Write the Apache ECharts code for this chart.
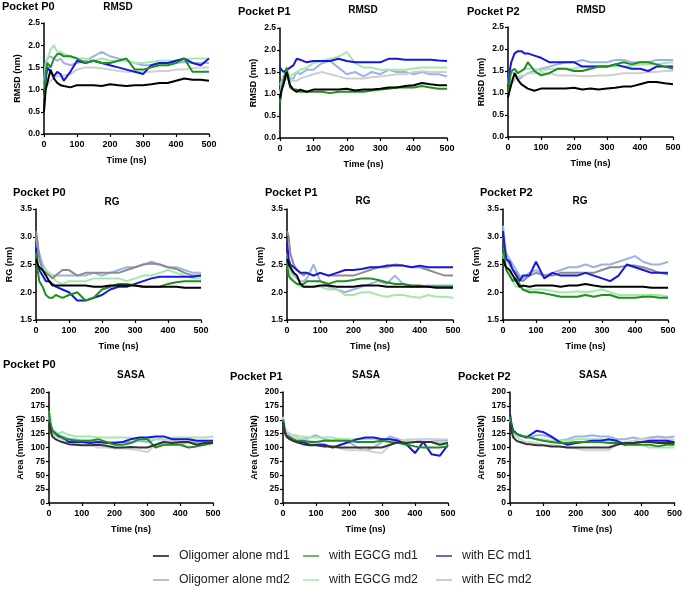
<!DOCTYPE html>
<html><head><meta charset="utf-8">
<script src="https://cdn.jsdelivr.net/npm/echarts@6/dist/echarts.min.js"></script>
<style>html,body{margin:0;padding:0;background:#fff}#c{width:685px;height:589px}</style>
</head><body><div id="c"></div>
<script>
// ---------- DATA ----------
const T = [0,5,10,20,30,40,50,60,80,100,125,150,175,200,225,250,275,300,325,350,375,400,425,450,475,500];
const SERIES_NAMES = ['Oligomer alone md1','Oligomer alone md2','with EGCG md1','with EGCG md2','with EC md1','with EC md2'];

// RMSD Pocket P0
const rmsdP0_olig1 = [0.5,1.0,1.15,1.45,1.25,1.15,1.1,1.08,1.05,1.1,1.1,1.1,1.08,1.12,1.1,1.08,1.1,1.1,1.12,1.15,1.15,1.2,1.25,1.22,1.22,1.2];
const rmsdP0_olig2 = [0.8,1.0,1.1,1.2,1.25,1.3,1.3,1.32,1.35,1.45,1.5,1.5,1.48,1.45,1.42,1.4,1.4,1.4,1.4,1.42,1.42,1.45,1.45,1.48,1.5,1.5];
const rmsdP0_egcg1 = [0.6,1.4,1.6,1.5,1.7,1.8,1.8,1.75,1.75,1.7,1.6,1.65,1.6,1.6,1.65,1.7,1.45,1.45,1.5,1.55,1.55,1.6,1.7,1.4,1.4,1.4];
const rmsdP0_egcg2 = [1.0,1.5,1.7,1.9,2.0,1.85,1.85,1.8,1.75,1.7,1.7,1.65,1.7,1.65,1.65,1.65,1.6,1.6,1.62,1.65,1.65,1.65,1.68,1.7,1.7,1.7];
const rmsdP0_ec1   = [0.9,1.2,1.5,1.4,1.3,1.4,1.35,1.2,1.4,1.65,1.6,1.65,1.6,1.55,1.5,1.45,1.4,1.35,1.55,1.6,1.6,1.65,1.7,1.6,1.55,1.7];
const rmsdP0_ec2   = [1.2,1.6,1.7,1.75,1.7,1.65,1.7,1.6,1.55,1.6,1.65,1.75,1.85,1.75,1.7,1.65,1.6,1.55,1.55,1.6,1.6,1.6,1.62,1.6,1.6,1.6];
// RMSD Pocket P1
const rmsdP1_olig1 = [0.9,1.1,1.2,1.5,1.2,1.1,1.05,1.1,1.05,1.1,1.1,1.1,1.1,1.12,1.08,1.1,1.1,1.12,1.15,1.15,1.18,1.2,1.25,1.22,1.2,1.2];
const rmsdP1_olig2 = [1.0,1.2,1.3,1.35,1.3,1.3,1.3,1.35,1.4,1.45,1.5,1.45,1.4,1.35,1.35,1.35,1.38,1.4,1.42,1.45,1.45,1.5,1.52,1.5,1.5,1.5];
const rmsdP1_egcg1 = [0.8,1.1,1.3,1.6,1.15,1.1,1.1,1.05,1.05,1.05,1.05,1.02,1.05,1.05,1.05,1.05,1.08,1.1,1.12,1.15,1.15,1.15,1.18,1.15,1.12,1.12];
const rmsdP1_egcg2 = [1.0,1.2,1.4,1.5,1.4,1.45,1.5,1.55,1.6,1.7,1.75,1.8,1.85,1.95,1.7,1.6,1.6,1.55,1.55,1.55,1.55,1.58,1.6,1.6,1.6,1.6];
const rmsdP1_ec1   = [1.6,1.6,1.5,1.55,1.6,1.65,1.8,1.78,1.72,1.75,1.75,1.75,1.8,1.75,1.72,1.72,1.72,1.72,1.8,1.8,1.78,1.78,1.78,1.78,1.76,1.75];
const rmsdP1_ec2   = [1.2,1.3,1.4,1.45,1.35,1.35,1.5,1.45,1.55,1.55,1.7,1.75,1.6,1.45,1.5,1.4,1.5,1.45,1.55,1.5,1.5,1.45,1.5,1.45,1.45,1.4];
// RMSD Pocket P2
const rmsdP2_olig1 = [0.9,1.05,1.2,1.45,1.3,1.2,1.15,1.1,1.05,1.1,1.1,1.1,1.1,1.12,1.08,1.1,1.08,1.1,1.12,1.15,1.15,1.2,1.25,1.25,1.22,1.2];
const rmsdP2_olig2 = [1.0,1.1,1.2,1.3,1.35,1.4,1.4,1.45,1.45,1.45,1.45,1.4,1.4,1.4,1.38,1.38,1.4,1.4,1.42,1.45,1.45,1.45,1.48,1.48,1.5,1.5];
const rmsdP2_egcg1 = [1.0,1.3,1.5,1.55,1.45,1.5,1.55,1.7,1.5,1.4,1.45,1.55,1.55,1.5,1.5,1.55,1.6,1.6,1.65,1.7,1.65,1.7,1.7,1.65,1.6,1.55];
const rmsdP2_egcg2 = [1.0,1.2,1.3,1.4,1.45,1.5,1.55,1.55,1.55,1.5,1.55,1.55,1.55,1.55,1.6,1.6,1.6,1.6,1.6,1.6,1.62,1.65,1.65,1.65,1.68,1.7];
const rmsdP2_ec1   = [1.0,1.5,1.7,1.9,1.95,1.95,1.9,1.9,1.85,1.8,1.7,1.7,1.7,1.7,1.6,1.6,1.6,1.6,1.65,1.6,1.55,1.55,1.5,1.6,1.6,1.6];
const rmsdP2_ec2   = [1.2,1.5,1.5,1.45,1.3,1.35,1.4,1.45,1.5,1.55,1.6,1.65,1.7,1.7,1.75,1.7,1.7,1.7,1.75,1.75,1.7,1.7,1.7,1.75,1.75,1.75];
// RG Pocket P0
const rgP0_olig1 = [2.6,2.5,2.45,2.4,2.3,2.2,2.12,2.12,2.12,2.12,2.12,2.12,2.1,2.1,2.12,2.12,2.12,2.12,2.1,2.1,2.1,2.1,2.1,2.08,2.08,2.08];
const rgP0_olig2 = [3.1,2.9,2.6,2.4,2.35,2.3,2.25,2.3,2.4,2.4,2.3,2.35,2.35,2.35,2.35,2.35,2.4,2.45,2.5,2.52,2.5,2.45,2.42,2.35,2.3,2.3];
const rgP0_egcg1 = [2.7,2.4,2.2,2.1,1.95,1.9,1.9,1.95,1.9,1.95,2.0,1.85,1.9,2.05,2.1,2.15,2.15,2.12,2.1,2.1,2.1,2.15,2.18,2.2,2.2,2.2];
const rgP0_egcg2 = [2.6,2.5,2.4,2.45,2.4,2.35,2.3,2.2,2.15,2.2,2.2,2.2,2.25,2.25,2.25,2.25,2.2,2.25,2.3,2.3,2.35,2.4,2.35,2.3,2.25,2.25];
const rgP0_ec1   = [2.8,2.5,2.4,2.3,2.2,2.2,2.15,2.1,2.05,2.0,1.85,1.85,1.9,1.95,2.05,2.1,2.1,2.15,2.2,2.25,2.28,2.28,2.28,2.28,2.28,2.3];
const rgP0_ec2   = [3.0,2.8,2.7,2.5,2.4,2.3,2.3,2.3,2.3,2.3,2.3,2.3,2.35,2.3,2.35,2.4,2.45,2.45,2.5,2.55,2.5,2.45,2.45,2.4,2.35,2.35];
// RG Pocket P1
const rgP1_olig1 = [2.6,2.5,2.45,2.35,2.3,2.15,2.1,2.1,2.1,2.12,2.12,2.1,2.1,2.1,2.12,2.12,2.12,2.1,2.1,2.1,2.1,2.1,2.1,2.08,2.08,2.08];
const rgP1_olig2 = [3.1,3.0,2.7,2.5,2.4,2.35,2.3,2.35,2.3,2.35,2.3,2.3,2.3,2.3,2.35,2.4,2.45,2.45,2.5,2.48,2.45,2.45,2.4,2.35,2.3,2.3];
const rgP1_egcg1 = [2.5,2.3,2.25,2.2,2.15,2.15,2.15,2.2,2.2,2.2,2.15,2.2,2.2,2.22,2.25,2.25,2.22,2.18,2.15,2.15,2.12,2.12,2.1,2.1,2.1,2.1];
const rgP1_egcg2 = [2.6,2.4,2.3,2.2,2.15,2.1,2.1,2.1,2.1,2.1,2.05,2.05,1.95,1.95,2.0,2.0,1.95,1.92,1.95,1.95,1.92,1.9,1.95,1.92,1.92,1.9];
const rgP1_ec1   = [2.9,2.6,2.5,2.45,2.4,2.35,2.35,2.35,2.3,2.35,2.3,2.35,2.4,2.4,2.42,2.45,2.45,2.48,2.48,2.48,2.45,2.48,2.45,2.45,2.45,2.45];
const rgP1_ec2   = [2.7,2.5,2.4,2.3,2.25,2.2,2.2,2.25,2.5,2.2,2.1,2.05,2.0,2.05,2.1,2.15,2.2,2.15,2.3,2.15,2.1,2.1,2.12,2.12,2.12,2.12];
// RG Pocket P2
const rgP2_olig1 = [2.6,2.5,2.45,2.4,2.3,2.2,2.1,2.12,2.1,2.12,2.12,2.12,2.1,2.12,2.12,2.15,2.12,2.1,2.1,2.1,2.1,2.1,2.1,2.08,2.08,2.08];
const rgP2_olig2 = [3.0,2.8,2.6,2.5,2.4,2.35,2.25,2.2,2.3,2.35,2.3,2.3,2.35,2.35,2.35,2.35,2.35,2.4,2.45,2.45,2.48,2.48,2.45,2.4,2.35,2.32];
const rgP2_egcg1 = [2.8,2.6,2.4,2.3,2.2,2.25,2.15,2.05,2.0,2.0,1.98,1.95,1.92,1.92,1.92,1.95,1.92,1.95,1.95,1.9,1.9,1.9,1.92,1.92,1.9,1.9];
const rgP2_egcg2 = [2.7,2.5,2.4,2.3,2.2,2.1,2.1,2.05,2.05,2.05,2.05,2.02,2.0,2.0,2.02,2.0,2.02,2.05,2.0,1.95,1.95,1.95,1.95,1.95,1.95,1.92];
const rgP2_ec1   = [3.1,2.8,2.6,2.55,2.4,2.3,2.2,2.3,2.3,2.55,2.25,2.35,2.3,2.3,2.3,2.35,2.3,2.25,2.2,2.3,2.5,2.45,2.4,2.35,2.35,2.35];
const rgP2_ec2   = [3.2,2.9,2.7,2.6,2.5,2.4,2.3,2.25,2.35,2.4,2.3,2.35,2.4,2.45,2.45,2.5,2.45,2.5,2.5,2.55,2.6,2.65,2.55,2.5,2.5,2.55];
// SASA Pocket P0
const sasaP0_olig1 = [145,130,120,115,112,110,108,106,105,104,104,105,103,100,100,101,100,100,105,110,108,110,110,105,108,108];
const sasaP0_olig2 = [150,135,125,120,118,115,112,110,108,105,105,100,100,98,98,97,95,92,105,112,112,115,115,112,112,112];
const sasaP0_egcg1 = [165,140,130,125,122,118,115,115,112,112,112,115,110,105,105,108,115,115,100,105,105,105,100,102,105,108];
const sasaP0_egcg2 = [165,145,135,128,125,128,125,123,120,120,120,118,118,118,118,117,115,115,115,115,118,118,118,118,118,120];
const sasaP0_ec1   = [150,140,130,125,120,118,115,110,110,110,108,110,108,108,110,115,118,118,120,120,115,115,115,112,112,112];
const sasaP0_ec2   = [155,140,132,125,122,120,118,115,115,112,112,110,110,110,110,110,112,110,115,115,112,105,110,108,110,112];
// SASA Pocket P1
const sasaP1_olig1 = [145,128,120,115,112,110,108,106,104,104,102,102,100,100,100,100,100,100,105,110,108,110,110,110,105,108];
const sasaP1_olig2 = [155,140,130,125,120,118,115,115,112,110,105,100,98,95,95,95,92,90,105,110,115,115,115,115,115,115];
const sasaP1_egcg1 = [150,130,122,118,115,112,112,112,110,110,112,112,112,112,110,110,110,112,110,108,105,102,100,100,100,102];
const sasaP1_egcg2 = [155,135,128,125,122,122,120,120,118,118,118,118,115,115,115,115,115,115,115,112,112,110,110,110,110,110];
const sasaP1_ec1   = [150,130,122,118,115,112,110,110,105,105,105,100,105,110,115,118,118,115,115,112,105,90,110,88,85,105];
const sasaP1_ec2   = [155,135,128,122,120,118,115,115,118,122,115,112,115,110,100,95,100,110,120,115,110,110,115,115,112,112];
// SASA Pocket P2
const sasaP2_olig1 = [145,128,118,112,110,108,106,106,104,104,102,102,100,100,100,100,100,100,105,108,108,110,110,108,108,108];
const sasaP2_olig2 = [150,132,122,118,115,112,110,110,108,105,105,102,100,98,95,95,95,95,105,110,112,115,115,115,115,115];
const sasaP2_egcg1 = [155,135,128,125,122,120,120,118,115,112,110,108,108,110,110,110,110,108,108,105,105,105,105,102,105,105];
const sasaP2_egcg2 = [155,135,128,122,120,120,118,118,115,115,112,112,112,115,115,115,115,112,110,108,105,105,100,100,100,100];
const sasaP2_ec1   = [160,140,130,125,122,120,118,122,130,128,120,110,105,108,110,112,112,115,112,105,108,110,112,112,112,110];
const sasaP2_ec2   = [160,140,130,125,122,120,118,118,122,122,118,112,115,120,120,122,120,120,115,115,118,115,118,120,118,120];

// axis tick definitions
const rmsdTicks = [0, 2.5, 0.5];
const rgTicks = [1.5, 3.5, 0.5];
const sasaTicks = [0, 200, 25];
const timeTicks = [0, 500, 100];

// ---------- LAYOUT ----------
const FONT = "'Liberation Sans', Arial, Helvetica, sans-serif";
const palette = {
  rmsd: ['#000000','#cfcfcf','#1f8f1f','#a6e8ac','#1616e0','#9db2e6'],
  rg:   ['#000000','#8c8c8c','#1f8f1f','#a6e8ac','#1616e0','#9db2e6'],
  sasa: ['#333333','#d2d2d2','#1f8f1f','#a6e8ac','#1616e0','#9db2e6']
};
const panels = [
  {g:[44,23,165,111],   kind:'rmsd', yname:'RMSD (nm)', ticks:rmsdTicks, dec:1, gap:22, title:'RMSD', pocket:'Pocket P0', pp:[2,7],   tp:[118,7],
   d:[rmsdP0_olig1,rmsdP0_olig2,rmsdP0_egcg1,rmsdP0_egcg2,rmsdP0_ec1,rmsdP0_ec2]},
  {g:[280,28,167,110],  kind:'rmsd', yname:'RMSD (nm)', ticks:rmsdTicks, dec:1, gap:22, title:'RMSD', pocket:'Pocket P1', pp:[238,12], tp:[363,10],
   d:[rmsdP1_olig1,rmsdP1_olig2,rmsdP1_egcg1,rmsdP1_egcg2,rmsdP1_ec1,rmsdP1_ec2]},
  {g:[508,27,165,110],  kind:'rmsd', yname:'RMSD (nm)', ticks:rmsdTicks, dec:1, gap:22, title:'RMSD', pocket:'Pocket P2', pp:[467,12], tp:[591,10],
   d:[rmsdP2_olig1,rmsdP2_olig2,rmsdP2_egcg1,rmsdP2_egcg2,rmsdP2_ec1,rmsdP2_ec2]},
  {g:[36,209,165,111],  kind:'rg', yname:'RG (nm)', ticks:rgTicks, dec:1, gap:22, title:'RG', pocket:'Pocket P0', pp:[13,193], tp:[112,202],
   d:[rgP0_olig1,rgP0_olig2,rgP0_egcg1,rgP0_egcg2,rgP0_ec1,rgP0_ec2]},
  {g:[287,209,166,111], kind:'rg', yname:'RG (nm)', ticks:rgTicks, dec:1, gap:22, title:'RG', pocket:'Pocket P1', pp:[265,193], tp:[363,201],
   d:[rgP1_olig1,rgP1_olig2,rgP1_egcg1,rgP1_egcg2,rgP1_ec1,rgP1_ec2]},
  {g:[503,209,165,111], kind:'rg', yname:'RG (nm)', ticks:rgTicks, dec:1, gap:22, title:'RG', pocket:'Pocket P2', pp:[480,193], tp:[580,201],
   d:[rgP2_olig1,rgP2_olig2,rgP2_egcg1,rgP2_egcg2,rgP2_ec1,rgP2_ec2]},
  {g:[49,392,164,111],  kind:'sasa', yname:'Area (nm\\S2\\N)', ticks:sasaTicks, dec:0, gap:24, title:'SASA', pocket:'Pocket P0', pp:[3,365], tp:[131,375],
   d:[sasaP0_olig1,sasaP0_olig2,sasaP0_egcg1,sasaP0_egcg2,sasaP0_ec1,sasaP0_ec2]},
  {g:[283,392,165,111], kind:'sasa', yname:'Area (nm\\S2\\N)', ticks:sasaTicks, dec:0, gap:24, title:'SASA', pocket:'Pocket P1', pp:[230,377], tp:[366,375],
   d:[sasaP1_olig1,sasaP1_olig2,sasaP1_egcg1,sasaP1_egcg2,sasaP1_ec1,sasaP1_ec2]},
  {g:[510,392,166,111], kind:'sasa', yname:'Area (nm\\S2\\N)', ticks:sasaTicks, dec:0, gap:24, title:'SASA', pocket:'Pocket P2', pp:[458,377], tp:[593,375],
   d:[sasaP2_olig1,sasaP2_olig2,sasaP2_egcg1,sasaP2_egcg2,sasaP2_ec1,sasaP2_ec2]}
];
const drawOrder = [5,3,1,4,2,0];

const grid = [], xAxis = [], yAxis = [], series = [], graphic = [];
const axisLine = {show:true, onZero:false, lineStyle:{color:'#000', width:1.5}};
const axisTick = {show:true, length:3, lineStyle:{color:'#000', width:1.2}};
panels.forEach((p, i) => {
  grid.push({left:p.g[0], top:p.g[1], width:p.g[2], height:p.g[3], containLabel:false});
  xAxis.push({gridIndex:i, type:'value', min:timeTicks[0], max:timeTicks[1], interval:timeTicks[2],
    axisLine, axisTick, splitLine:{show:false},
    axisLabel:{color:'#000', fontSize:9, fontWeight:'bold', fontFamily:FONT, margin:6},
    name:'Time (ns)', nameLocation:'middle', nameGap:22,
    nameTextStyle:{color:'#000', fontSize:9, fontWeight:'bold', fontFamily:FONT}});
  yAxis.push({gridIndex:i, type:'value', min:p.ticks[0], max:p.ticks[1], interval:p.ticks[2],
    axisLine, axisTick, splitLine:{show:false},
    axisLabel:{color:'#000', fontSize:8.5, fontWeight:'bold', fontFamily:FONT, margin:4,
      formatter: v => v.toFixed(p.dec)},
    name:p.yname, nameLocation:'middle', nameGap:p.gap,
    nameTextStyle:{color:'#000', fontSize:9, fontWeight:'bold', fontFamily:FONT}});
  drawOrder.forEach(k => {
    series.push({type:'line', name:SERIES_NAMES[k], xAxisIndex:i, yAxisIndex:i,
      data:T.map((t, j) => [t, p.d[k][j]]), symbol:'none', silent:true, animation:false,
      lineStyle:{color:palette[p.kind][k], width:2}, itemStyle:{color:palette[p.kind][k]}});
  });
  graphic.push({type:'text', x:p.pp[0], y:p.pp[1], style:{text:p.pocket, fill:'#000',
    font:'bold 11px ' + FONT, textAlign:'left', textVerticalAlign:'middle'}});
  graphic.push({type:'text', x:p.tp[0], y:p.tp[1], style:{text:p.title, fill:'#000',
    font:'bold 10px ' + FONT, textAlign:'center', textVerticalAlign:'middle'}});
});

const legendColors = ['#111111','#aaaaaa','#3aa03a','#a6e8ac','#3333cc','#a8bce6'];
const legendPos = [[148,545],[148,569],[298,545],[298,569],[431,545],[431,569]];
const legend = SERIES_NAMES.map((nm, k) => ({
  left:legendPos[k][0], top:legendPos[k][1], orient:'horizontal', itemWidth:16, itemHeight:14,
  icon:'path://M0,6 L16,6 L16,7.5 L0,7.5 Z', selectedMode:false,
  textStyle:{fontSize:12.3, color:'#222', fontFamily:FONT, padding:[0,0,0,5]},
  data:[{name:nm, itemStyle:{color:legendColors[k]}}]
}));

const chart = echarts.init(document.getElementById('c'), null, {renderer:'canvas'});
chart.setOption({
  animation:false, backgroundColor:'#fff',
  grid, xAxis, yAxis, series, graphic, legend
});
</script></body></html>
